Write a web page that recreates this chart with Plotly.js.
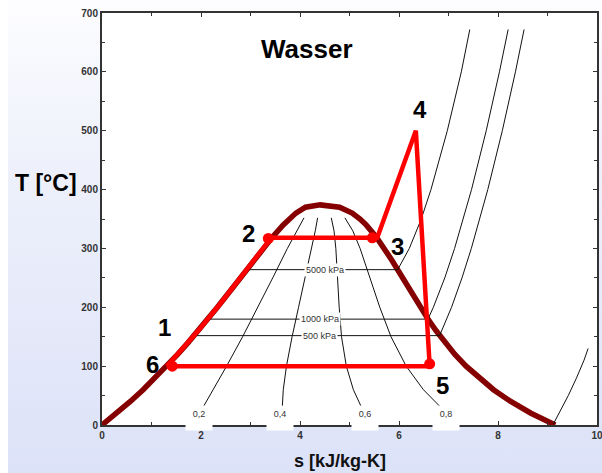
<!DOCTYPE html>
<html>
<head>
<meta charset="utf-8">
<script src="https://cdn.plot.ly/plotly-3.0.1.min.js"></script>
<style>
  html, body { margin: 0; padding: 0; background: #ffffff; }
  #wrap { position: relative; width: 602px; height: 473px;
          background: linear-gradient(to bottom, #fdfdff 0%, #eef1fb 35%, #dce2f8 100%); }
  #strip { position: absolute; left: 0; top: 0; width: 8px; height: 473px; background: #ffffff; }
  #chart { position: absolute; left: 0; top: 0; width: 602px; height: 473px; }
</style>
</head>
<body>
<div id="wrap"><div id="strip"></div><div id="chart"></div></div>
<script>
// Saturation dome (s in kJ/kg-K, T in °C)
const domeS = [0, 0.2966, 0.5725, 0.8312, 1.075, 1.307, 1.528, 1.739, 1.943, 2.139, 2.331, 2.518, 2.702, 2.884, 3.067, 3.255, 3.450, 3.661, 3.778, 3.917, 4.111, 4.407, 4.800, 5.054, 5.213, 5.336, 5.537, 5.704, 5.856, 6.001, 6.143, 6.287, 6.432, 6.585, 6.750, 6.930, 7.129, 7.355, 7.612, 7.909, 8.257, 8.666, 9.156];
const domeT = [0, 20, 40, 60, 80, 100, 120, 140, 160, 180, 200, 220, 240, 260, 280, 300, 320, 340, 350, 360, 370, 373.95, 370, 360, 350, 340, 320, 300, 280, 260, 240, 220, 200, 180, 160, 140, 120, 100, 80, 60, 40, 20, 0];

// Quality lines x = 0.2, 0.4, 0.6, 0.8
const qualT  = [33, 60, 100, 150, 200, 250, 300, 330, 352];
const qual02 = [2.061, 2.247, 2.517, 2.841, 3.151, 3.449, 3.745, 3.930, 4.081];
const qual04 = [3.644, 3.662, 3.726, 3.840, 3.971, 4.105, 4.235, 4.309, 4.356];
const qual06 = [5.226, 5.078, 4.936, 4.839, 4.792, 4.761, 4.724, 4.687, 4.632];
const qual08 = [6.809, 6.493, 6.145, 5.838, 5.612, 5.417, 5.214, 5.066, 4.907];
const qualNames = ['0,2', '0,4', '0,6', '0,8'];
const qualLabelS = [1.96, 3.60, 5.31, 6.95];

// Isobars
const iso5000S = [2.9201, 5.9734, 6.2084, 6.4493, 6.6459, 6.8186, 6.9759, 7.2589, 7.43];
const iso5000T = [263.94, 263.94, 300, 350, 400, 450, 500, 600, 672];
const iso1000S = [2.1387, 6.5850, 6.6939, 6.9246, 7.1228, 7.3010, 7.4650, 7.7621, 8.0289, 8.205];
const iso1000T = [179.88, 179.88, 200, 250, 300, 350, 400, 500, 600, 672];
const iso500S  = [1.8606, 6.8207, 7.0610, 7.2725, 7.4614, 7.6346, 7.7938, 8.0873, 8.3522, 8.527];
const iso500T  = [151.83, 151.83, 200, 250, 300, 350, 400, 500, 600, 672];
const isoLowS  = [9.12, 9.237, 9.42, 9.586, 9.738, 9.82];
const isoLowT  = [2, 20, 50, 80, 110, 130];
const isoNames = ['5000 kPa', '1000 kPa', '500 kPa', '0,7143 kPa'];
const isoLabelS = [4.50, 4.40, 4.40, 4.55];
const isoLabelT = [263.94, 179.88, 151.83, -3];

// Rankine cycle 1-2-3-4-5-6
const cycleS = [1.31, 1.528, 1.943, 2.331, 2.702, 3.067, 3.42, 5.56, 6.34, 6.62, 1.31];
const cycleT = [100, 120, 160, 200, 240, 280, 318, 318, 500, 100, 100];
const markS = [1.42, 3.36, 5.46, 6.62];
const markT = [100, 317, 318, 104];
const stateNames = ['1', '2', '3', '4', '5', '6'];
const stateLabelS = [1.27, 2.95, 5.96, 6.42, 6.87, 1.01];
const stateLabelT = [165, 326, 304, 536, 67, 103];

const thin = {color: '#111111', width: 1};
const traces = [
  {x: domeS, y: domeT, mode: 'lines', line: {color: '#850000', width: 5.5}},
  {x: qual02, y: qualT, mode: 'lines', line: thin},
  {x: qual04, y: qualT, mode: 'lines', line: thin},
  {x: qual06, y: qualT, mode: 'lines', line: thin},
  {x: qual08, y: qualT, mode: 'lines', line: thin},
  {x: iso5000S, y: iso5000T, mode: 'lines', line: thin},
  {x: iso1000S, y: iso1000T, mode: 'lines', line: thin},
  {x: iso500S, y: iso500T, mode: 'lines', line: thin},
  {x: isoLowS, y: isoLowT, mode: 'lines', line: thin},
  {x: cycleS, y: cycleT, mode: 'lines', line: {color: '#ff0000', width: 4.5}},
  {x: markS, y: markT, mode: 'markers', marker: {color: '#ff0000', size: 11}}
];

const F = 'Liberation Sans, Arial, sans-serif';
const annotations = [];
for (let i = 0; i < isoNames.length; i++) {
  annotations.push({x: isoLabelS[i], y: isoLabelT[i], xref: 'x', yref: 'y', text: isoNames[i],
    showarrow: false, bgcolor: '#ffffff', borderpad: 1, xanchor: 'center', yanchor: 'middle',
    font: {family: F, size: 9, color: '#333333'}});
}
for (let i = 0; i < qualNames.length; i++) {
  annotations.push({x: qualLabelS[i], y: 31, xref: 'x', yref: 'y', text: qualNames[i],
    showarrow: false, bgcolor: '#ffffff', xanchor: 'center', yanchor: 'top', valign: 'top', height: 20, width: 24,
    font: {family: F, size: 9, color: '#333333'}});
}
for (let i = 0; i < stateNames.length; i++) {
  annotations.push({x: stateLabelS[i], y: stateLabelT[i], xref: 'x', yref: 'y', text: stateNames[i],
    showarrow: false, xanchor: 'center', yanchor: 'middle',
    font: {family: F, size: 24, color: '#000000', weight: 'bold'}});
}
annotations.push({x: 4.14, y: 638, xref: 'x', yref: 'y', text: 'Wasser', showarrow: false,
  xanchor: 'center', yanchor: 'middle',
  font: {family: F, size: 26, color: '#000000', weight: 'bold'}});
annotations.push({x: -0.046, y: 0.588, xref: 'paper', yref: 'paper', text: 'T [°C]', showarrow: false,
  xanchor: 'right', yanchor: 'middle',
  font: {family: F, size: 23, color: '#000000', weight: 'bold'}});
annotations.push({x: 0.481, y: -0.088, xref: 'paper', yref: 'paper', text: 's [kJ/kg-K]', showarrow: false,
  xanchor: 'center', yanchor: 'middle',
  font: {family: F, size: 18, color: '#111111', weight: 'bold'}});

const tickFont = {family: F, size: 10, color: '#333333', weight: 'bold'};
const layout = {
  width: 602, height: 473,
  margin: {l: 102, r: 5, t: 13, b: 48},
  paper_bgcolor: 'rgba(0,0,0,0)',
  plot_bgcolor: '#ffffff',
  showlegend: false,
  xaxis: {range: [0, 10], tickvals: [0, 2, 4, 6, 8, 10], ticks: 'inside', ticklen: 4, tickwidth: 1,
    tickcolor: '#333333', showline: true, linecolor: '#333333', linewidth: 2, mirror: 'ticks',
    showgrid: false, zeroline: false, tickfont: tickFont, ticklabeloverflow: 'allow',
    minor: {dtick: 1, ticks: 'inside', ticklen: 3, tickcolor: '#333333', showgrid: false}},
  yaxis: {range: [0, 700], dtick: 100, ticks: 'inside', ticklen: 4, tickwidth: 1,
    tickcolor: '#333333', showline: true, linecolor: '#333333', linewidth: 2, mirror: 'ticks',
    showgrid: false, zeroline: false, tickfont: tickFont, ticklabeloverflow: 'allow',
    minor: {dtick: 50, ticks: 'inside', ticklen: 3, tickcolor: '#333333', showgrid: false}},
  annotations: annotations
};
Plotly.newPlot('chart', traces, layout, {displayModeBar: false, staticPlot: true});
</script>
</body>
</html>
